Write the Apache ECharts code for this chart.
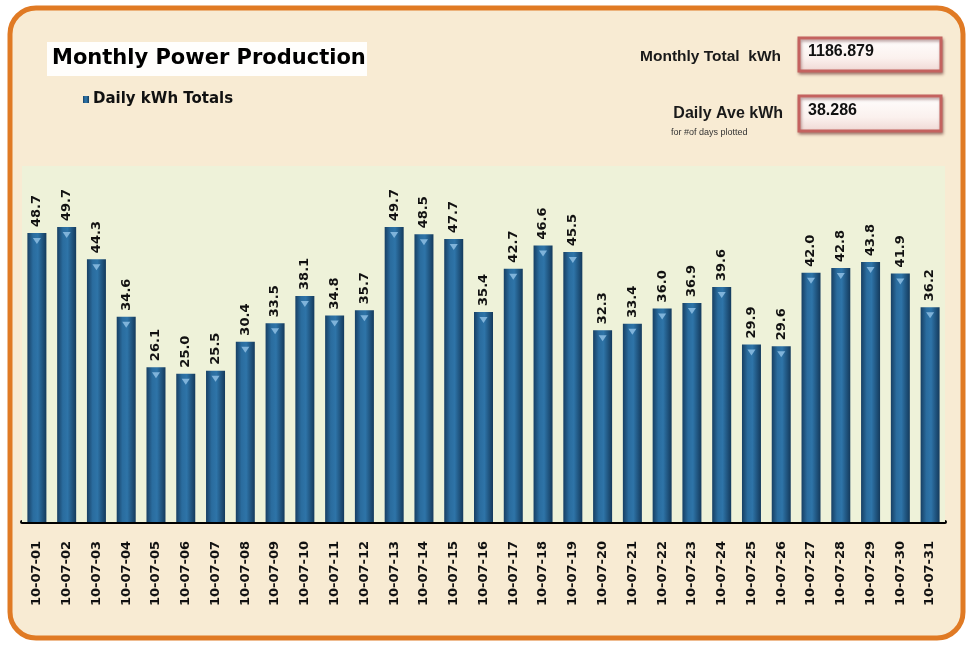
<!DOCTYPE html>
<html>
<head>
<meta charset="utf-8">
<title>Monthly Power Production</title>
<script src="https://cdn.jsdelivr.net/npm/echarts@6/dist/echarts.min.js"></script>
<style>
  html, body { margin: 0; padding: 0; background: #ffffff; }
  #chart { width: 971px; height: 645px; }
</style>
</head>
<body>
<div id="chart"></div>
<script>
// daily totals, July 2010
const days = [
  '10-07-01', '10-07-02', '10-07-03', '10-07-04', '10-07-05', '10-07-06', '10-07-07', '10-07-08',
  '10-07-09', '10-07-10', '10-07-11', '10-07-12', '10-07-13', '10-07-14', '10-07-15', '10-07-16',
  '10-07-17', '10-07-18', '10-07-19', '10-07-20', '10-07-21', '10-07-22', '10-07-23', '10-07-24',
  '10-07-25', '10-07-26', '10-07-27', '10-07-28', '10-07-29', '10-07-30', '10-07-31'
]
const dailyKwh = [
  48.7, 49.7, 44.3, 34.6, 26.1, 25.0, 25.5, 30.4, 33.5, 38.1, 34.8, 35.7, 49.7, 48.5, 47.7, 35.4,
  42.7, 46.6, 45.5, 32.3, 33.4, 36.0, 36.9, 39.6, 29.9, 29.6, 42.0, 42.8, 43.8, 41.9, 36.2
]
const monthlyTotal = '1186.879'
const dailyAve = '38.286'

const chart = echarts.init(document.getElementById('chart'))

const barFill = new echarts.graphic.LinearGradient(0, 0, 1, 0, [
  { offset: 0, color: '#173f63' },
  { offset: 0.3, color: '#2a6c9e' },
  { offset: 0.55, color: '#2e74a8' },
  { offset: 1, color: '#143a5c' }
])

const boxFill = new echarts.graphic.LinearGradient(0, 0, 0, 1, [
  { offset: 0, color: '#ffffff' },
  { offset: 0.6, color: '#fbf1ee' },
  { offset: 1, color: '#efd6d2' }
])

chart.setOption({
  animation: false,
  grid: {
    left: 22, right: 26, top: 166, bottom: 123,
    show: true, backgroundColor: '#eef2d9', borderWidth: 0, z: 1
  },
  legend: {
    data: ['Daily kWh Totals'],
    left: 78, top: 87,
    icon: 'rect', itemWidth: 6, itemHeight: 7, itemGap: 4,
    textStyle: { fontFamily: 'DejaVu Sans', fontWeight: 'bold', fontSize: 15, color: '#111', padding: [0, 0, 0, -1] }
  },
  xAxis: {
    type: 'category',
    data: days,
    axisLine: { lineStyle: { color: '#000', width: 4 } },
    axisTick: { show: false },
    axisLabel: {
      rotate: 90, margin: 19, interval: 0,
      fontFamily: 'DejaVu Sans', fontWeight: 'bold', fontSize: 13, color: '#111'
    }
  },
  yAxis: {
    type: 'value', min: 0, max: 60, show: false,
    splitLine: { show: false }
  },
  series: [
    {
      name: 'Daily kWh Totals',
      type: 'bar',
      data: dailyKwh,
      barWidth: 19,
      z: 3,
      itemStyle: { color: barFill },
      label: {
        show: true, position: 'top', rotate: 90, distance: 6,
        align: 'left', verticalAlign: 'middle',
        formatter: p => p.value.toFixed(1),
        fontFamily: 'DejaVu Sans', fontWeight: 'bold', fontSize: 13, color: '#111'
      }
    },
    {
      // small light cap marker on top of each bar
      name: 'cap',
      type: 'pictorialBar',
      data: dailyKwh,
      symbol: 'triangle',
      symbolRotate: 180,
      symbolSize: [8, 6],
      symbolPosition: 'end',
      symbolOffset: [0, 5],
      z: 4,
      itemStyle: { color: '#7fb3da' },
      silent: true
    }
  ],
  graphic: [
    {
      type: 'rect', z: -10, silent: true,
      shape: { x: 10, y: 8, width: 953, height: 630, r: 26 },
      style: { fill: '#f8ebd3', stroke: '#e07a24', lineWidth: 5 }
    },
    {
      type: 'rect', z: 10, silent: true,
      shape: { x: 47, y: 42, width: 320, height: 34 },
      style: { fill: 'rgba(255,255,255,0.92)' }
    },
    {
      type: 'text', z: 11, silent: true,
      x: 52, y: 59,
      style: {
        text: 'Monthly Power Production', fontFamily: 'DejaVu Sans', fontWeight: 'bold',
        fontSize: 21, fill: '#000', verticalAlign: 'middle'
      }
    },
    {
      type: 'text', z: 11, silent: true,
      x: 781, y: 57,
      style: {
        text: 'Monthly Total  kWh', fontFamily: 'Liberation Sans', fontWeight: 'bold',
        fontSize: 15.5, fill: '#1a1a1a', align: 'right', verticalAlign: 'middle'
      }
    },
    {
      type: 'text', z: 11, silent: true,
      x: 783, y: 114,
      style: {
        text: 'Daily Ave kWh', fontFamily: 'Liberation Sans', fontWeight: 'bold',
        fontSize: 16, fill: '#1a1a1a', align: 'right', verticalAlign: 'middle'
      }
    },
    {
      type: 'text', z: 11, silent: true,
      x: 671, y: 133,
      style: {
        text: 'for #of days plotted', fontFamily: 'Liberation Sans',
        fontSize: 9, fill: '#333', verticalAlign: 'middle'
      }
    },
    {
      type: 'rect', z: 10, silent: true,
      shape: { x: 799, y: 38, width: 142, height: 33 },
      style: { fill: boxFill, stroke: '#c4625f', lineWidth: 3, shadowBlur: 3, shadowColor: 'rgba(90,30,30,0.45)', shadowOffsetX: 1, shadowOffsetY: 2 }
    },
    {
      type: 'text', z: 11, silent: true,
      x: 808, y: 52,
      style: {
        text: monthlyTotal, fontFamily: 'Liberation Sans', fontWeight: 'bold',
        fontSize: 16, fill: '#111', verticalAlign: 'middle'
      }
    },
    {
      type: 'rect', z: 10, silent: true,
      shape: { x: 799, y: 96, width: 142, height: 35 },
      style: { fill: boxFill, stroke: '#c4625f', lineWidth: 3, shadowBlur: 3, shadowColor: 'rgba(90,30,30,0.45)', shadowOffsetX: 1, shadowOffsetY: 2 }
    },
    {
      type: 'text', z: 11, silent: true,
      x: 808, y: 111,
      style: {
        text: dailyAve, fontFamily: 'Liberation Sans', fontWeight: 'bold',
        fontSize: 16, fill: '#111', verticalAlign: 'middle'
      }
    }
  ]
})

window.addEventListener('resize', () => chart.resize())
</script>
</body>
</html>
